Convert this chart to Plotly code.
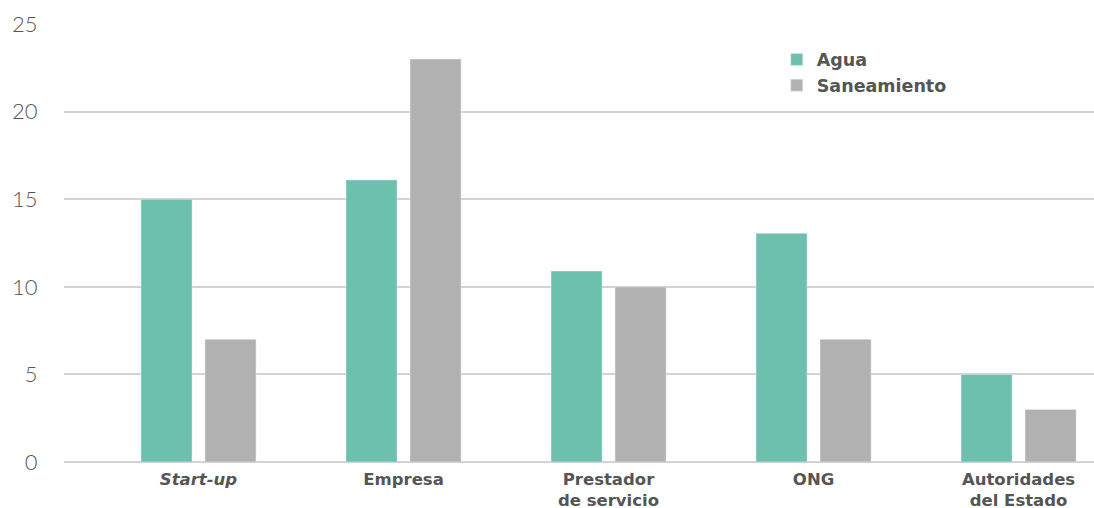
import plotly.graph_objects as go

categories = ["<i>Start-up</i>", "Empresa", "Prestador<br>de servicio", "ONG", "Autoridades<br>del Estado"]
agua = [15, 16.1, 10.9, 13.05, 5]
saneamiento = [7, 23, 10, 7, 3]

TEAL = "#6dc0ad"
GRAY = "#b1b1b1"
TEXT = "#555555"

fig = go.Figure()
fig.add_trace(go.Bar(x=categories, y=agua, name="Agua", marker_color=TEAL,
                     width=0.249, offset=-0.2805))
fig.add_trace(go.Bar(x=categories, y=saneamiento, name="Saneamiento", marker_color=GRAY,
                     width=0.249, offset=0.0317))

fig.update_layout(
    width=1094, height=508,
    margin=dict(l=64, r=0, t=24, b=46, autoexpand=False),
    plot_bgcolor="white", paper_bgcolor="white",
    font=dict(family="DejaVu Sans", color=TEXT),
    showlegend=True,
    legend=dict(x=0.692, y=0.96, xanchor="left", yanchor="top",
                font=dict(size=17.5, color=TEXT, family="DejaVu Sans", weight="bold"),
                bgcolor="rgba(0,0,0,0)", tracegroupgap=0),
    xaxis=dict(range=[-0.656, 4.368], showgrid=False, showline=False, zeroline=False,
               automargin=False,
               ticks="outside", tickcolor="rgba(0,0,0,0)", ticklen=2,
               tickfont=dict(size=16.5, color=TEXT, family="DejaVu Sans", weight="bold")),
    yaxis=dict(range=[0, 25], tickvals=[0, 5, 10, 15, 20, 25], showgrid=True,
               automargin=False,
               gridcolor="#d3d3d3", gridwidth=1.5, zeroline=True, zerolinecolor="#d3d3d3",
               zerolinewidth=1.5, showline=False,
               ticks="outside", tickcolor="rgba(0,0,0,0)", ticklen=21,
               tickfont=dict(size=22, color=TEXT, family="Lato", weight=300)),
)

fig.write_html("out.html")
